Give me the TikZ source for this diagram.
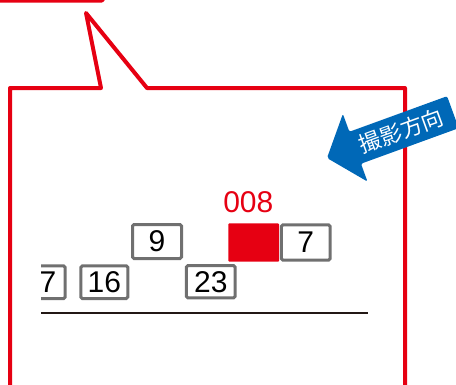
\documentclass[tikz,border=0pt]{standalone}
\usepackage{fontspec}
\setmainfont{Liberation Sans}
\newfontfamily\cjk{Noto Sans CJK JP}
\definecolor{cred}{HTML}{E60012}
\definecolor{cblue}{HTML}{0068B7}
\definecolor{cgray}{HTML}{707070}
\definecolor{cdark}{HTML}{231815}
\tikzset{
  numbox/.style={draw=cgray, line width=3pt, fill=white, rounded corners=1.5pt,
    inner sep=0pt, font=\fontsize{30}{30}\selectfont, text=black},
  redbox/.style={fill=cred, rounded corners=1pt, inner sep=0pt},
  redline/.style={draw=cred, line width=4pt, line join=round},
}
\begin{document}
\begin{tikzpicture}[x=1pt,y=-1pt]
\useasboundingbox (0,0) rectangle (456,384);
% top-left red frame fragment
\draw[redline, rounded corners=2pt] (-10,-20) rectangle (103,0.7);
% callout frame
\draw[redline] (10,400) -- (10,88) -- (101,88) -- (86,13) -- (147,88) -- (405,88) -- (405,400);
% blue arrow
\begin{scope}[shift={(327,158)}, rotate=20]
  \fill[cblue, rounded corners=2pt] (0,0) -- (30,-36) -- (30,-17) -- (134,-17) -- (134,17) -- (30,17) -- (30,36) -- cycle;
  \node[rotate=20, text=white, inner sep=0pt, font=\cjk\fontsize{22}{22}\selectfont] (dir) at (79,0) {撮影方向};
\end{scope}
% boxes
\node[numbox, minimum width=49pt, minimum height=34pt] (b9) at (157,241.5) {9};
\node[redbox, minimum width=50.7pt, minimum height=38.4pt] (red) at (253.7,242.5) {};
\node[numbox, minimum width=48.7pt, minimum height=35.4pt] (b7) at (305.8,242.5) {7};
\node[numbox, minimum width=47pt, minimum height=32.7pt] (b16) at (104.3,282.2) {16};
\node[numbox, minimum width=48.7pt, minimum height=32.3pt] (b23) at (210.8,281.7) {23};
\begin{scope}
  \clip (41,250) rectangle (120,320);
  \node[numbox, minimum width=34.3pt, minimum height=32.7pt] (b7l) at (48,282.2) {7};
\end{scope}
\node[text=cred, font=\fontsize{30}{30}\selectfont, inner sep=0pt] (lbl) at (248.3,202.5) {008};
% ground line
\coordinate (g1) at (41,313);
\coordinate (g2) at (368,313);
\draw[cdark, line width=2pt] (g1) -- (g2);
\end{tikzpicture}
\end{document}
